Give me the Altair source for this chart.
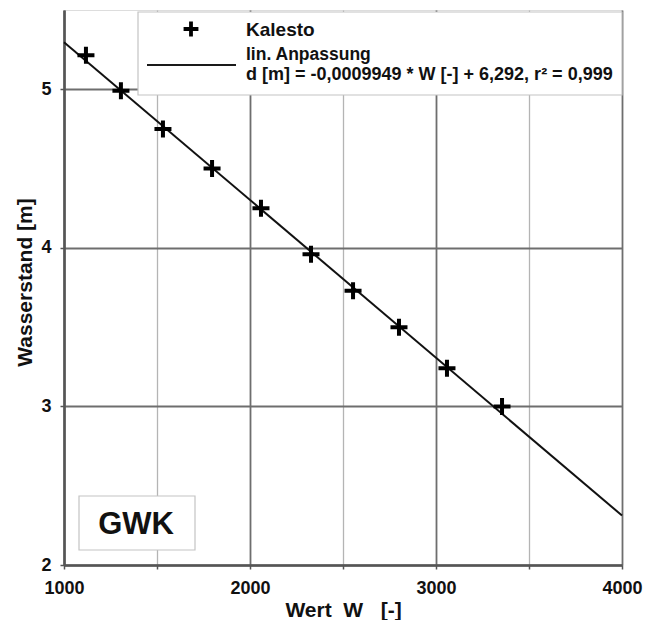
import altair as alt
import pandas as pd

# Measured data (Kalesto)
w_values = [1118, 1306, 1532, 1796, 2059, 2328, 2554, 2801, 3059, 3355]
d_values = [5.215, 4.99, 4.75, 4.50, 4.25, 3.96, 3.73, 3.50, 3.24, 3.00]

# Linear fit endpoints (d = -0.0009949 * W + 6.292)
fit_w = [1000, 4000]
fit_d = [5.297, 2.312]

x_ticks = [1000, 1500, 2000, 2500, 3000, 3500, 4000]
y_ticks = [2, 2.5, 3, 3.5, 4, 4.5, 5, 5.5]

legend_point_label = "Kalesto"
legend_line_label1 = "lin. Anpassung"
legend_line_label2 = "d [m] = -0,0009949 * W [-] + 6,292, r\u00b2 = 0,999"
station_label = "GWK"
x_title = "Wert\u00a0\u00a0W\u00a0\u00a0\u00a0[-]"
y_title = "Wasserstand [m]"

FONT = "Liberation Sans"
W, H = 558, 555

pts = pd.DataFrame({"W": w_values, "d": d_values})
fit = pd.DataFrame({"W": fit_w, "d": fit_d})

grid_color = {"condition": {"test": "datum.value % 1 == 0", "value": "#6e6e6e"}, "value": "#b4b4b4"}
grid_color_x = {"condition": {"test": "datum.value % 1000 == 0", "value": "#6e6e6e"}, "value": "#b4b4b4"}
grid_width = {"condition": {"test": "datum.value % 1 == 0", "value": 1.8}, "value": 1.3}
grid_width_x = {"condition": {"test": "datum.value % 1000 == 0", "value": 1.8}, "value": 1.3}

xscale = alt.Scale(domain=[1000, 4000], nice=False, zero=False)
yscale = alt.Scale(domain=[2, 5.5], nice=False, zero=False)

common = dict(
    labelFont=FONT, labelFontWeight="bold", labelFontSize=18, labelColor="#111",
    titleFont=FONT, titleFontWeight="bold", titleFontSize=21, titleColor="#111",
    domainColor="#555", domainWidth=2.6, tickColor="#555", tickWidth=1.5, tickSize=4,
)

xaxis = alt.Axis(
    values=x_ticks, format="d",
    labelExpr="datum.value % 1000 == 0 ? datum.label : ''",
    title=x_title, gridColor=grid_color_x, gridWidth=grid_width_x,
    labelPadding=10, titlePadding=2, labelFlush=False, **common,
)
yaxis = alt.Axis(
    values=y_ticks, format="d",
    labelExpr="datum.value % 1 == 0 ? datum.label : ''",
    title=y_title, gridColor=grid_color, gridWidth=grid_width,
    labelPadding=9, titlePadding=5, titleY=272, **common,
)

line = alt.Chart(fit).mark_line(color="#111", strokeWidth=2).encode(
    x=alt.X("W:Q", scale=xscale, axis=xaxis),
    y=alt.Y("d:Q", scale=yscale, axis=yaxis),
)

cross_path = "M-1,0H1M0,-1V1"
points = alt.Chart(pts).mark_point(
    shape=cross_path, filled=False, color="#000", strokeWidth=4, size=289, opacity=1
).encode(x=alt.X("W:Q", scale=xscale), y=alt.Y("d:Q", scale=yscale))

# Legend box
one = pd.DataFrame({"a": [0]})
leg_box = alt.Chart(one).mark_rect(fill="white", stroke="#c4c4c4", strokeWidth=1.2).encode(
    x=alt.value(74), x2=alt.value(W), y=alt.value(2), y2=alt.value(85)
)
leg_cross = alt.Chart(one).mark_point(
    shape=cross_path, filled=False, color="#000", strokeWidth=3.8, size=220, opacity=1
).encode(x=alt.value(127), y=alt.value(19))
leg_line = alt.Chart(one).mark_rule(color="#1a1a1a", strokeWidth=1.8).encode(
    x=alt.value(83), x2=alt.value(172), y=alt.value(55)
)
leg_t1 = alt.Chart(one).mark_text(
    text=legend_point_label, font=FONT, fontWeight="bold", fontSize=19, align="left",
    baseline="alphabetic", color="#111"
).encode(x=alt.value(182), y=alt.value(26))
leg_t2 = alt.Chart(one).mark_text(
    text=legend_line_label1, font=FONT, fontWeight="bold", fontSize=17.5, align="left",
    baseline="alphabetic", color="#111"
).encode(x=alt.value(182), y=alt.value(50))
leg_t3 = alt.Chart(one).mark_text(
    text=legend_line_label2, font=FONT, fontWeight="bold", fontSize=18, align="left",
    baseline="alphabetic", color="#111"
).encode(x=alt.value(182), y=alt.value(70))

# Station box
st_box = alt.Chart(one).mark_rect(fill="white", stroke="#c4c4c4", strokeWidth=1.2).encode(
    x=alt.value(15), x2=alt.value(131), y=alt.value(486), y2=alt.value(540)
)
st_text = alt.Chart(one).mark_text(
    text=station_label, font=FONT, fontWeight="bold", fontSize=31, align="center",
    baseline="middle", color="#111"
).encode(x=alt.value(72), y=alt.value(515))

chart = alt.layer(line, points, leg_box, leg_cross, leg_line, leg_t1, leg_t2, leg_t3, st_box, st_text).properties(
    width=W, height=H,
    autosize=alt.AutoSizeParams(type="none"),
    padding={"left": 56, "top": 2, "right": 28, "bottom": 55},
).configure_view(
    stroke="#8c8c8c", strokeWidth=1.5
).configure(background="white")

chart.save("out.html", embed_options={"renderer": "svg", "actions": False})
